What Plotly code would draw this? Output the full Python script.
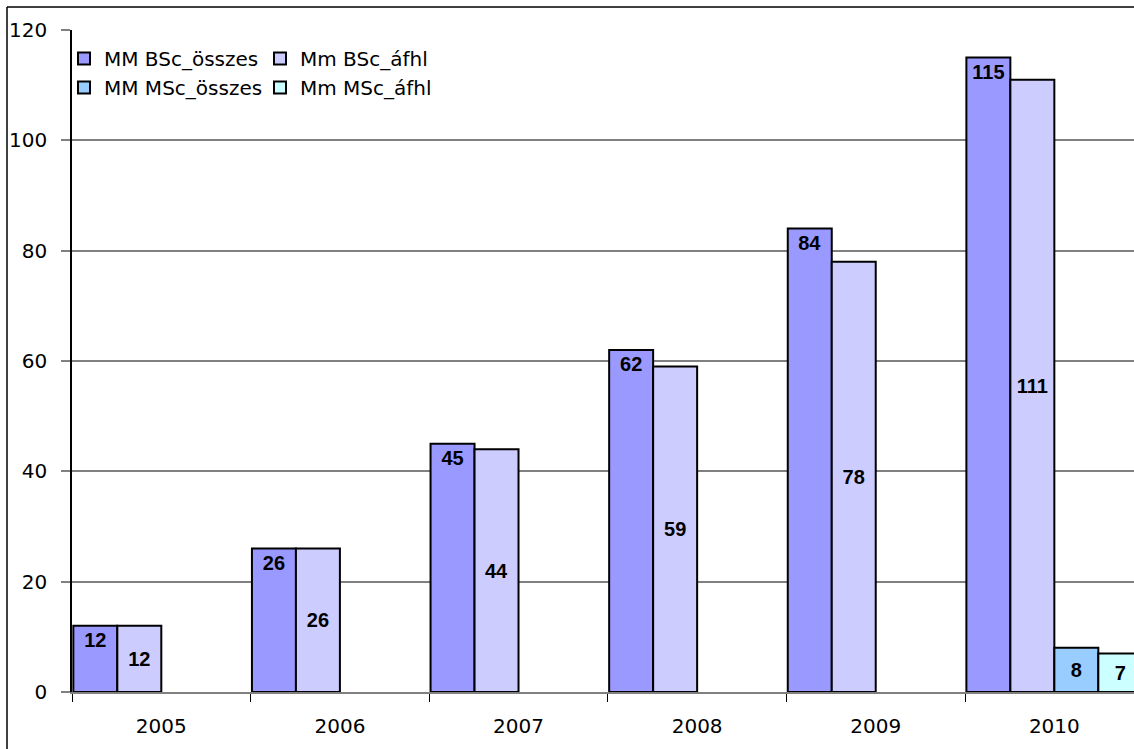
import plotly.graph_objects as go

# Yearly headcounts per programme
years = ["2005", "2006", "2007", "2008", "2009", "2010"]
bsc_osszes = [12, 26, 45, 62, 84, 115]
bsc_afhl = [12, 26, 44, 59, 78, 111]
msc_osszes = [None, None, None, None, None, 8]
msc_afhl = [None, None, None, None, None, 7]

series_names = ["MM BSc_összes", "Mm BSc_áfhl", "MM MSc_összes", "Mm MSc_áfhl"]
series_values = [bsc_osszes, bsc_afhl, msc_osszes, msc_afhl]
series_colors = ["#9999FF", "#CCCCFF", "#99CCFF", "#CCFFFF"]
label_anchor = ["end", "middle", "middle", "middle"]
legend_ids = ["legend", "legend2", "legend", "legend2"]

W, H = 1134, 749
ML, MR, MT, MB = 72, 0, 30, 57
PW, PH = W - ML - MR, H - MT - MB

TICK_FONT = dict(family="DejaVu Sans", size=20, color="black")

fig = go.Figure()
for name, vals, col, anc, leg in zip(series_names, series_values, series_colors,
                                     label_anchor, legend_ids):
    fig.add_trace(go.Bar(
        x=years, y=vals, name=name, legend=leg,
        marker=dict(color=col, line=dict(color="black", width=2)),
        text=[None if v is None else str(v) for v in vals],
        textposition="inside", insidetextanchor=anc, constraintext="none",
        textangle=0,
        textfont=dict(family="Liberation Sans", size=20, color="black", weight="bold"),
        hoverinfo="skip",
    ))


def px_x(p):
    return (p - ML) / PW


def px_y(p):
    return (H - MB - p) / PH


legend_common = dict(
    orientation="v", xref="paper", yref="paper", xanchor="left", yanchor="top",
    font=dict(family="DejaVu Sans", size=20, color="black"),
    bgcolor="rgba(0,0,0,0)", borderwidth=0, itemclick=False, itemdoubleclick=False,
    tracegroupgap=0,
)

fig.update_layout(
    width=W, height=H,
    margin=dict(l=ML, r=MR, t=MT, b=MB, pad=0),
    paper_bgcolor="white", plot_bgcolor="white",
    barmode="group", bargap=0.015, bargroupgap=0,
    showlegend=True,
    legend=dict(legend_common, x=px_x(64), y=px_y(39)),
    legend2=dict(legend_common, x=px_x(260), y=px_y(39)),
    xaxis=dict(
        type="category", range=[-0.5, 5.446],
        showgrid=False, showline=True, linecolor="#808080", linewidth=1.5,
        ticks="outside", tickson="boundaries", ticklen=8, tickwidth=1.2,
        tickcolor="black", tickfont=TICK_FONT, ticklabelstandoff=15,
        fixedrange=True,
    ),
    yaxis=dict(
        range=[0, 120], dtick=20, tick0=0,
        showgrid=True, gridcolor="#808080", gridwidth=1.5,
        zeroline=False,
        showline=True, linecolor="black", linewidth=1.5,
        ticks="outside", ticklen=9, tickwidth=1.5, tickcolor="#808080",
        tickfont=TICK_FONT, ticklabelstandoff=10,
        fixedrange=True,
    ),
    shapes=[
        # outer chart frame (left and top edges)
        dict(type="line", xref="paper", yref="paper",
             x0=px_x(7), x1=px_x(7), y0=px_y(7), y1=px_y(H + 5),
             line=dict(color="black", width=1.5)),
        dict(type="line", xref="paper", yref="paper",
             x0=px_x(7), x1=px_x(W + 5), y0=px_y(7), y1=px_y(7),
             line=dict(color="black", width=1.5)),
    ],
)

fig.write_html("out.html", config={"displayModeBar": False})
